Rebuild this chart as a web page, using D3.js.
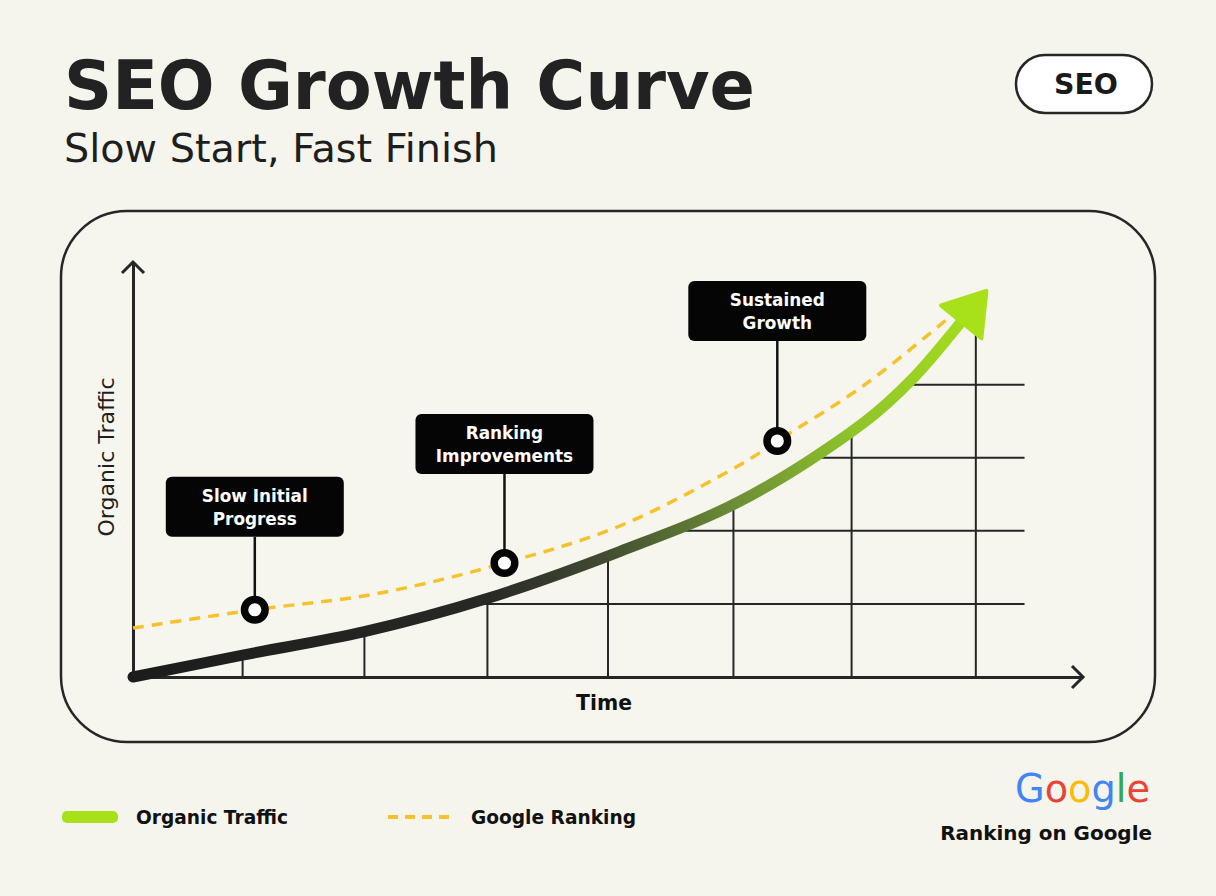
<!DOCTYPE html>
<html>
<head>
<meta charset="utf-8">
<script src="https://cdn.jsdelivr.net/npm/d3@7"></script>
<style>
  body { margin: 0; background: #f5f5ee; }
  svg { display: block; }
  text { font-family: "DejaVu Sans", "Open Sans", sans-serif; }
</style>
</head>
<body>
<svg id="chart" width="1216" height="896"></svg>
<script>
// ---- data ----
var trafficTime  = [0, 0.9, 1.9, 2.9, 4, 5, 6, 6.4, 6.8];
var trafficValue = [0, 0.30, 0.62, 1.07, 1.72, 2.42, 3.48, 4.08, 4.86];

var rankingTime  = [0, 1, 2, 3.05, 4, 5, 5.29, 6, 6.7];
var rankingValue = [0.67, 0.92, 1.14, 1.56, 2.07, 2.92, 3.23, 3.99, 4.92];

var gridTimes  = [0.9, 1.9, 2.91, 3.9, 4.93, 5.9, 6.92];
var gridLevels = [1, 2, 3, 4];

var calloutLabels = [["Slow Initial", "Progress"], ["Ranking", "Improvements"], ["Sustained", "Growth"]];
var calloutTime   = [1, 3.05, 5.29];
var calloutValue  = [0.92, 1.56, 3.23];

var legendLabels = ["Organic Traffic", "Google Ranking"];
var googleLetters = ["G", "o", "o", "g", "l", "e"];

// ---- layout ----
var svg = d3.select("#chart");
var x = d3.scaleLinear().domain([0, 7.8]).range([133, 1083]);
var y = d3.scaleLinear().domain([0, 5.68]).range([677, 262]);
var ink = "#262626";
var lime = "#a8e01a";
var gold = "#f6c22c";
var stemLen = [73, 89, 100];

var trafficPts = trafficTime.map(function(t, i) { return [t, trafficValue[i]]; });
var rankingPts = rankingTime.map(function(t, i) { return [t, rankingValue[i]]; });

var line = d3.line()
  .x(function(d) { return x(d[0]); })
  .y(function(d) { return y(d[1]); })
  .curve(d3.curveCatmullRom.alpha(0.5));

// pick the font size that gives the width seen in the picture
function fitSize(sel, w) {
  var len = sel.node().getComputedTextLength();
  var fs = +sel.attr("font-size");
  sel.attr("font-size", (fs * w / len).toFixed(2));
  return +sel.attr("font-size");
}

// title
fitSize(svg.append("text").attr("x", 64).attr("y", 109)
  .attr("font-size", 60).attr("font-weight", 700).attr("fill", "#222")
  .text("SEO Growth Curve"), 691);
fitSize(svg.append("text").attr("x", 64).attr("y", 162)
  .attr("font-size", 34).attr("fill", "#1e1e1e")
  .text("Slow Start, Fast Finish"), 434);

// SEO pill
svg.append("rect").attr("x", 1016).attr("y", 55).attr("width", 136).attr("height", 58)
  .attr("rx", 29).attr("fill", "#fff").attr("stroke", ink).attr("stroke-width", 2.5);
fitSize(svg.append("text").attr("x", 1086).attr("y", 94).attr("text-anchor", "middle")
  .attr("font-size", 26).attr("font-weight", 700).attr("fill", "#1a1a1a").text("SEO"), 64);

// panel
svg.append("rect").attr("x", 61).attr("y", 211).attr("width", 1094).attr("height", 531)
  .attr("rx", 66).attr("fill", "#f6f6ef").attr("stroke", ink).attr("stroke-width", 2.5);

// gradient for traffic line
var defs = svg.append("defs");
var grad = defs.append("linearGradient").attr("id", "trafficGrad")
  .attr("gradientUnits", "userSpaceOnUse")
  .attr("x1", x(0)).attr("y1", y(0)).attr("x2", 985).attr("y2", 295);
[[0, "#1c1c1c"], [0.38, "#282826"], [0.51, "#414a32"], [0.66, "#6b8c35"], [0.81, "#8fc42a"], [1, lime]]
  .forEach(function(s) { grad.append("stop").attr("offset", s[0]).attr("stop-color", s[1]); });

// traffic path (needed to find the arrow direction and clip region)
var trafficPath = svg.append("path").attr("d", line(trafficPts)).attr("fill", "none");
var node = trafficPath.node();
var L = node.getTotalLength();
var pEnd = node.getPointAtLength(L);
var pPrev = node.getPointAtLength(L - 12);
var dx = pEnd.x - pPrev.x, dy = pEnd.y - pPrev.y, dl = Math.sqrt(dx * dx + dy * dy);
dx /= dl; dy /= dl;
var tip = [pEnd.x + dx * 40, pEnd.y + dy * 40];
var w1 = [pEnd.x - dy * 26, pEnd.y + dx * 26];
var w2 = [pEnd.x + dy * 26, pEnd.y - dx * 26];

// clip: region below / right of traffic curve
var clipD = line(trafficPts) + "L" + tip[0] + "," + tip[1] + "L1100," + tip[1] +
  "L1100," + (y(0) + 5) + "L" + x(0) + "," + (y(0) + 5) + "Z";
defs.append("clipPath").attr("id", "underCurve").append("path").attr("d", clipD);

// grid
var grid = svg.append("g").attr("clip-path", "url(#underCurve)")
  .attr("stroke", ink).attr("stroke-width", 2);
grid.selectAll(".vg").data(gridTimes).enter().append("line")
  .attr("x1", function(d) { return x(d); }).attr("x2", function(d) { return x(d); })
  .attr("y1", y(0)).attr("y2", y(5.68));
grid.selectAll(".hg").data(gridLevels).enter().append("line")
  .attr("x1", x(0)).attr("x2", x(7.32))
  .attr("y1", function(d) { return y(d); }).attr("y2", function(d) { return y(d); });

// axes
svg.append("g").attr("transform", "translate(0," + y(0) + ")")
  .call(d3.axisBottom(x).tickValues([]).tickSizeOuter(0));
svg.append("g").attr("transform", "translate(" + x(0) + ",0)")
  .call(d3.axisLeft(y).tickValues([]).tickSizeOuter(0));
svg.selectAll(".domain").attr("stroke", ink).attr("stroke-width", 3);
svg.append("path").attr("d", "M" + (x(7.8) - 11) + "," + (y(0) - 11) + "L" + x(7.8) + "," + y(0) + "L" + (x(7.8) - 11) + "," + (y(0) + 11))
  .attr("fill", "none").attr("stroke", ink).attr("stroke-width", 3);
svg.append("path").attr("d", "M" + (x(0) - 11) + "," + (y(5.68) + 11) + "L" + x(0) + "," + y(5.68) + "L" + (x(0) + 11) + "," + (y(5.68) + 11))
  .attr("fill", "none").attr("stroke", ink).attr("stroke-width", 3);

fitSize(svg.append("text").attr("transform", "translate(114,457) rotate(-90)")
  .attr("text-anchor", "middle").attr("font-size", 19)
  .attr("fill", "#1e1e1e").text("Organic Traffic"), 159);
fitSize(svg.append("text").attr("x", 604).attr("y", 710).attr("text-anchor", "middle")
  .attr("font-size", 19).attr("font-weight", 700).attr("fill", "#111").text("Time"), 56);

// ranking dashed line
svg.append("path").attr("d", line(rankingPts)).attr("fill", "none")
  .attr("stroke", gold).attr("stroke-width", 3.5).attr("stroke-dasharray", "11 8");

// traffic line on top
trafficPath.raise().attr("stroke", "url(#trafficGrad)").attr("stroke-width", 11)
  .attr("stroke-linecap", "round");
svg.append("path").attr("d", "M" + w1 + "L" + tip + "L" + w2 + "Z")
  .attr("fill", lime).attr("stroke", lime).attr("stroke-width", 4).attr("stroke-linejoin", "round");

// callouts: size the box text from the first label's width
var probe = svg.append("text").attr("font-size", 16).attr("font-weight", 700).text(calloutLabels[0][0]);
var boxFont = fitSize(probe, 106);
probe.remove();

var call = svg.selectAll(".callout").data(calloutLabels).enter().append("g");
call.each(function(d, i) {
  var g = d3.select(this);
  var cx = x(calloutTime[i]), cy = y(calloutValue[i]);
  var boxBottom = cy - stemLen[i];
  g.append("line").attr("x1", cx).attr("x2", cx).attr("y1", boxBottom).attr("y2", cy)
    .attr("stroke", "#111").attr("stroke-width", 2.5);
  g.append("rect").attr("x", cx - 89).attr("y", boxBottom - 60).attr("width", 178).attr("height", 60)
    .attr("rx", 6).attr("fill", "#050505");
  g.append("text").attr("x", cx).attr("y", boxBottom - 35).attr("text-anchor", "middle")
    .attr("font-size", boxFont).attr("font-weight", 700).attr("fill", "#fff").text(d[0]);
  g.append("text").attr("x", cx).attr("y", boxBottom - 12).attr("text-anchor", "middle")
    .attr("font-size", boxFont).attr("font-weight", 700).attr("fill", "#fff").text(d[1]);
  g.append("circle").attr("cx", cx).attr("cy", cy).attr("r", 10.3)
    .attr("fill", "#fff").attr("stroke", "#050505").attr("stroke-width", 7.5);
});

// legend
svg.append("rect").attr("x", 62).attr("y", 811).attr("width", 56).attr("height", 12)
  .attr("rx", 5).attr("fill", lime);
fitSize(svg.append("text").attr("x", 136).attr("y", 824).attr("font-size", 18).attr("font-weight", 700)
  .attr("fill", "#111").text(legendLabels[0]), 152);
svg.append("line").attr("x1", 388).attr("x2", 453).attr("y1", 817).attr("y2", 817)
  .attr("stroke", gold).attr("stroke-width", 4).attr("stroke-dasharray", "10 7");
fitSize(svg.append("text").attr("x", 471).attr("y", 824).attr("font-size", 18).attr("font-weight", 700)
  .attr("fill", "#111").text(legendLabels[1]), 165);

// google mark
var gColors = ["#4285F4", "#EA4335", "#FBBC05", "#4285F4", "#34A853", "#EA4335"];
var gText = svg.append("text").attr("x", 1150).attr("y", 802).attr("text-anchor", "end")
  .attr("font-size", 40).attr("font-family", "Lato");
googleLetters.forEach(function(c, i) {
  gText.append("tspan").attr("fill", gColors[i]).text(c);
});
fitSize(gText, 135);
fitSize(svg.append("text").attr("x", 1152).attr("y", 840).attr("text-anchor", "end")
  .attr("font-size", 18).attr("font-weight", 700).attr("fill", "#111").text("Ranking on Google"), 212);
</script>
</body>
</html>
